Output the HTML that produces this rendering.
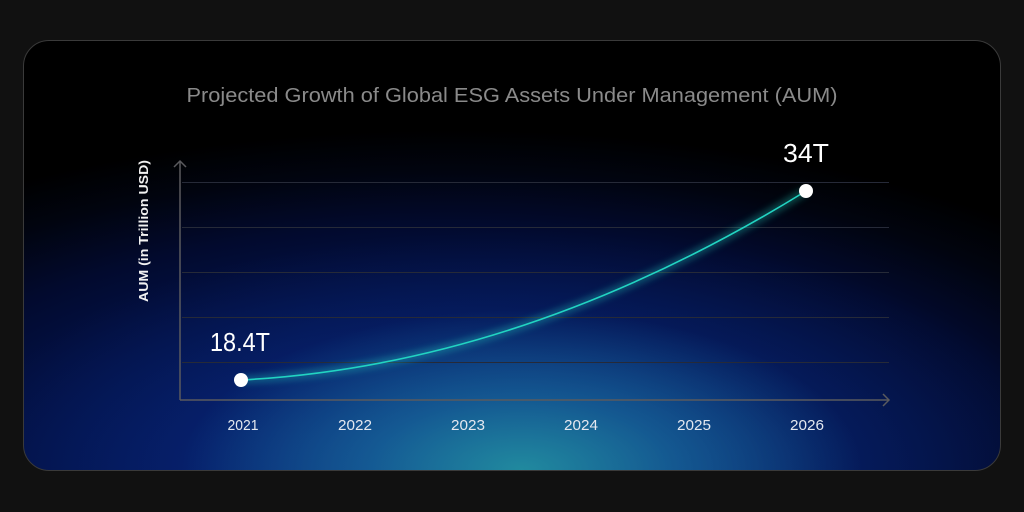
<!DOCTYPE html>
<html>
<head>
<meta charset="utf-8">
<style>
  html,body{margin:0;padding:0;}
  body{width:1024px;height:512px;background:#111111;position:relative;overflow:hidden;}
  .card{
    position:absolute;left:23px;top:40px;width:976px;height:429px;
    border:1px solid #3a3a3a;border-radius:26px;overflow:hidden;
    background:
      radial-gradient(ellipse 340px 160px at 51% 100%, rgba(34,142,160,0.95) 0%, rgba(26,112,158,0.65) 45%, rgba(18,70,140,0) 100%),
      radial-gradient(ellipse 560px 240px at 50% 100%, rgba(14,66,140,0.7) 0%, rgba(10,44,120,0.35) 55%, rgba(6,30,100,0) 100%),
      radial-gradient(ellipse 820px 340px at 44% 100%, #062380 0%, #041a66 30%, #03124a 52%, #020a2e 72%, #01040f 88%, rgba(0,0,0,0) 100%),
      #000000;
  }
  svg{position:absolute;left:0;top:0;}
</style>
</head>
<body>
<div class="card"></div>
<svg width="1024" height="512" viewBox="0 0 1024 512" xmlns="http://www.w3.org/2000/svg">
  <defs>
    <filter id="glow" x="-20%" y="-50%" width="140%" height="200%">
      <feGaussianBlur stdDeviation="4"/>
    </filter>
  </defs>
  <!-- title -->
  <text x="512" y="102" text-anchor="middle" font-family="Liberation Sans, sans-serif" font-size="20" fill="#8a8a8a" textLength="651" lengthAdjust="spacingAndGlyphs">Projected Growth of Global ESG Assets Under Management (AUM)</text>

  <!-- gridlines -->
  <g stroke="#262a38" stroke-width="1">
    <line x1="182" y1="182.5" x2="889" y2="182.5"/>
    <line x1="182" y1="227.5" x2="889" y2="227.5"/>
    <line x1="182" y1="272.5" x2="889" y2="272.5"/>
    <line x1="182" y1="317.5" x2="889" y2="317.5"/>
    <line x1="182" y1="362.5" x2="889" y2="362.5"/>
  </g>

  <!-- axes -->
  <g stroke="#5a5a5e" stroke-width="1.5" fill="none">
    <line x1="180" y1="161" x2="180" y2="400"/>
    <polyline points="174,167 180,161 186,167"/>
    <line x1="180" y1="400" x2="889" y2="400"/>
    <polyline points="883,394 889,400 883,406"/>
  </g>

  <!-- y label -->
  <text transform="translate(148,231) rotate(-90)" text-anchor="middle" font-family="Liberation Sans, sans-serif" font-size="13" font-weight="bold" fill="#f2f2f2" textLength="142" lengthAdjust="spacingAndGlyphs">AUM (in Trillion USD)</text>

  <!-- curve -->
  <path d="M241,380 Q523.5,365.1 806,191" stroke="#20e0cc" stroke-width="5" fill="none" opacity="0.5" filter="url(#glow)"/>
  <path d="M241,380 Q523.5,365.1 806,191" stroke="#22d4c2" stroke-width="1.6" fill="none"/>

  <!-- points -->
  <circle cx="241" cy="380" r="7" fill="#ffffff"/>
  <circle cx="806" cy="191" r="7" fill="#ffffff"/>

  <!-- value labels -->
  <text x="240" y="351" text-anchor="middle" font-family="Liberation Sans, sans-serif" font-size="26" fill="#ffffff" textLength="60" lengthAdjust="spacingAndGlyphs">18.4T</text>
  <text x="806" y="162" text-anchor="middle" font-family="Liberation Sans, sans-serif" font-size="26" fill="#ffffff" textLength="46" lengthAdjust="spacingAndGlyphs">34T</text>

  <!-- x labels -->
  <g font-family="Liberation Sans, sans-serif" font-size="15" fill="#e4e8f0" text-anchor="middle">
    <text x="243" y="430" textLength="31" lengthAdjust="spacingAndGlyphs">2021</text>
    <text x="355" y="430" textLength="34" lengthAdjust="spacingAndGlyphs">2022</text>
    <text x="468" y="430" textLength="34" lengthAdjust="spacingAndGlyphs">2023</text>
    <text x="581" y="430" textLength="34" lengthAdjust="spacingAndGlyphs">2024</text>
    <text x="694" y="430" textLength="34" lengthAdjust="spacingAndGlyphs">2025</text>
    <text x="807" y="430" textLength="34" lengthAdjust="spacingAndGlyphs">2026</text>
  </g>
</svg>
</body>
</html>
